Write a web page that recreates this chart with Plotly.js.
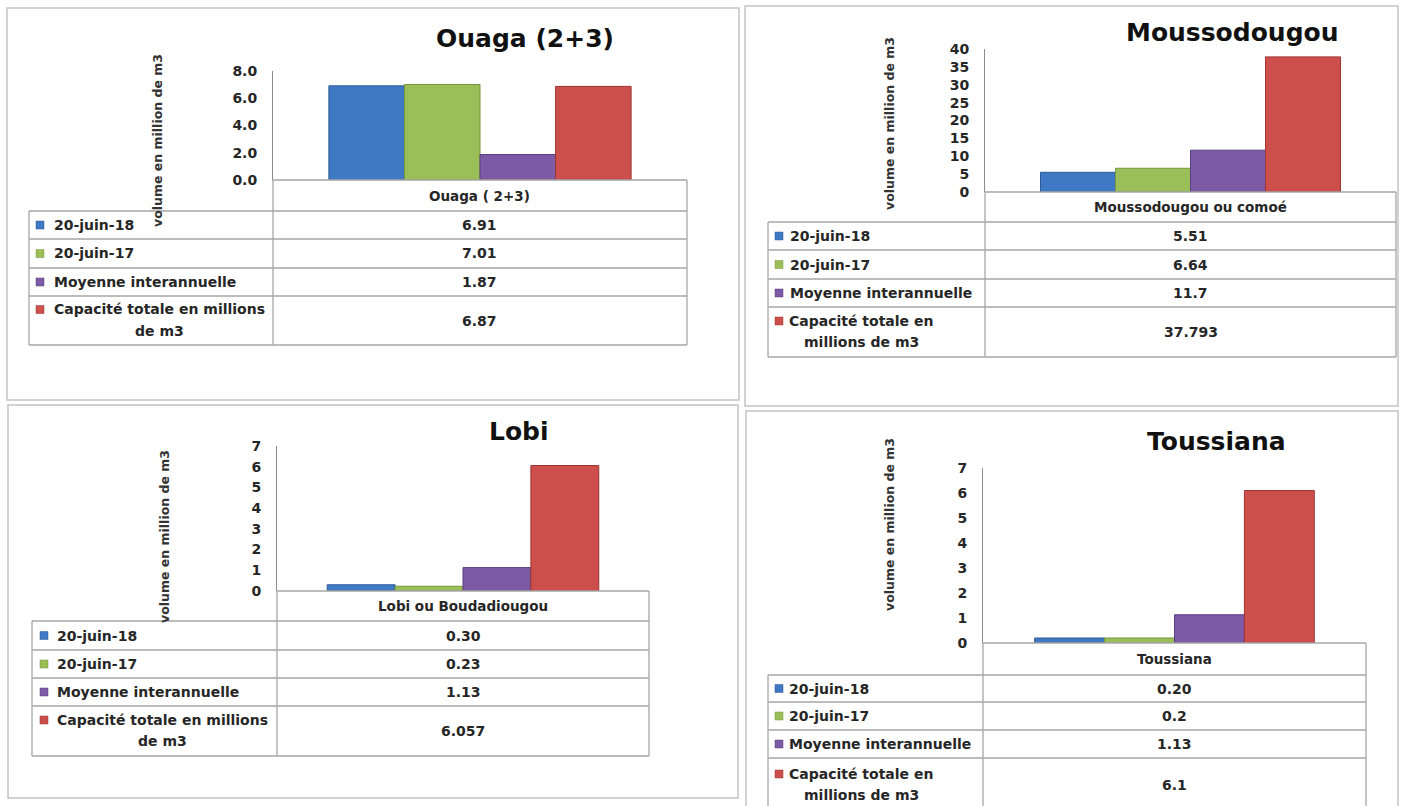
<!DOCTYPE html>
<html><head><meta charset="utf-8">
<script src="https://cdn.plot.ly/plotly-3.0.1.min.js"></script>
<style>html,body{margin:0;padding:0;background:#fff;} #chart{width:1406px;height:806px;}</style>
</head><body><div id="chart"></div>
<script>
// ---------- DATA ----------
const seriesNames = ["20-juin-18", "20-juin-17", "Moyenne interannuelle", "Capacité totale en millions de m3"];
const chartTitles = ["Ouaga (2+3)", "Moussodougou", "Lobi", "Toussiana"];
const categories = ["Ouaga ( 2+3)", "Moussodougou ou comoé", "Lobi ou Boudadiougou", "Toussiana"];
const ouagaValues = [6.91, 7.01, 1.87, 6.87];
const moussodougouValues = [5.51, 6.64, 11.7, 37.793];
const lobiValues = [0.30, 0.23, 1.13, 6.057];
const toussianaValues = [0.20, 0.2, 1.13, 6.1];
const ouagaLabels = ["6.91", "7.01", "1.87", "6.87"];
const moussodougouLabels = ["5.51", "6.64", "11.7", "37.793"];
const lobiLabels = ["0.30", "0.23", "1.13", "6.057"];
const toussianaLabels = ["0.20", "0.2", "1.13", "6.1"];
const yAxisTitle = "volume en million de m3";

// ---------- STYLE / LAYOUT ----------
const seriesColors = ["#3f78c4", "#9bbf58", "#7d5aa6", "#cc4f4c"];
const seriesEdges = ["#2d5a96", "#76953c", "#5c3f80", "#9c3533"];
const W = 1406, H = 806;
const px = x => x / W;
const py = y => 1 - y / H;
const FONT = "DejaVu Sans";

const panels = [
  { values: ouagaValues, labels: ouagaLabels, box: [7, 8, 739, 400], titleXY: [525, 38], yTitleXY: [157, 141],
    axX: [273, 687], axY: [180, 71], range: [0, 8], dtick: 2, fmt: ".1f",
    tLeft: 29, lines: [211, 239, 268, 296, 345], sqX: 36, labX: 52, capX: 159, capBreak: 4 },
  { values: moussodougouValues, labels: moussodougouLabels, box: [745, 6, 1398, 406], titleXY: [1232, 32], yTitleXY: [889, 124],
    axX: [985, 1396], axY: [192, 49], range: [0, 40], dtick: 5, fmt: "",
    tLeft: 768, lines: [222, 250, 279, 307, 357], sqX: 775, labX: 788, capX: 861, capBreak: 3 },
  { values: lobiValues, labels: lobiLabels, box: [8, 405, 738, 798], titleXY: [519, 432], yTitleXY: [164, 537],
    axX: [277, 649], axY: [591, 446], range: [0, 7], dtick: 1, fmt: "",
    tLeft: 32, lines: [621, 650, 678, 706, 756], sqX: 40, labX: 55, capX: 162, capBreak: 4 },
  { values: toussianaValues, labels: toussianaLabels, box: [746, 411, 1398, 812], titleXY: [1216, 442], yTitleXY: [889, 525],
    axX: [983, 1366], axY: [643, 468], range: [0, 7], dtick: 1, fmt: "",
    tLeft: 768, lines: [675, 702, 730, 758, 812], sqX: 775, labX: 787, capX: 861, capBreak: 3 }
];

const traces = [];
const layout = {
  width: W, height: H, margin: { l: 0, r: 0, t: 0, b: 0 },
  paper_bgcolor: "#ffffff", plot_bgcolor: "rgba(0,0,0,0)",
  barmode: "group", bargap: 0.27, bargroupgap: 0,
  showlegend: false, shapes: [], annotations: [],
  font: { family: FONT, color: "#262626" }
};
const gridColor = "#a6a6a6";
const line = (x0, y0, x1, y1, color, w) => ({ type: "line", xref: "paper", yref: "paper",
  x0: px(x0), y0: py(y0), x1: px(x1), y1: py(y1), line: { color: color || gridColor, width: w || 1.3 } });
const txt = (text, x, y, opts) => Object.assign({ text: text, xref: "paper", yref: "paper", x: px(x), y: py(y),
  showarrow: false, xanchor: "center", yanchor: "middle",
  font: { family: FONT, size: 14, color: "#262626", weight: "bold" } }, opts || {});

panels.forEach((p, i) => {
  const sfx = i === 0 ? "" : String(i + 1);
  seriesNames.forEach((name, s) => {
    traces.push({
      type: "bar", name: name, x: [categories[i]], y: [p.values[s]],
      xaxis: "x" + sfx, yaxis: "y" + sfx,
      marker: { color: seriesColors[s], line: { color: seriesEdges[s], width: 1 } },
      hovertemplate: name + ": %{y}<extra></extra>"
    });
  });
  layout["xaxis" + sfx] = { domain: [px(p.axX[0]), px(p.axX[1])], anchor: "y" + sfx,
    showticklabels: false, showline: false, showgrid: false, zeroline: false, ticks: "", fixedrange: true };
  layout["yaxis" + sfx] = { domain: [py(p.axY[0]), py(p.axY[1])], anchor: "x" + sfx,
    range: p.range, dtick: p.dtick, tick0: 0, tickformat: p.fmt, showline: true, linecolor: "#8c8c8c", linewidth: 1,
    showgrid: false, zeroline: false, ticks: "", ticklabelstandoff: 12,
    tickfont: { family: FONT, size: 14, color: "#262626", weight: "bold" }, fixedrange: true };

  // panel frame
  const b = p.box;
  layout.shapes.push({ type: "rect", xref: "paper", yref: "paper", x0: px(b[0]), y0: py(b[3]), x1: px(b[2]), y1: py(b[1]),
    line: { color: "#c4c4c4", width: 1.5 }, fillcolor: "rgba(0,0,0,0)", layer: "below" });

  // title
  layout.annotations.push(txt(chartTitles[i], p.titleXY[0], p.titleXY[1],
    { font: { family: FONT, size: 25, color: "#111111", weight: "bold" } }));
  // y title
  layout.annotations.push(txt(yAxisTitle, p.yTitleXY[0], p.yTitleXY[1],
    { textangle: -90, font: { family: FONT, size: 12.5, color: "#333333", weight: "bold" } }));

  // data table
  const L = p.tLeft, D = p.axX[0], R = p.axX[1], top = p.axY[0], rows = p.lines, bot = rows[rows.length - 1];
  layout.shapes.push(line(D, top, R, top));
  layout.shapes.push(line(D, top, D, bot));
  layout.shapes.push(line(R, top, R, bot));
  layout.shapes.push(line(L, rows[0], L, bot));
  rows.forEach(y => layout.shapes.push(line(L, y, R, y)));
  const valX = (D + R) / 2;
  layout.annotations.push(txt(categories[i], valX, (top + rows[0]) / 2, { font: { family: FONT, size: 13.5, color: "#262626", weight: "bold" } }));

  seriesNames.forEach((name, s) => {
    const y0 = rows[s], y1 = rows[s + 1], yc = (y0 + y1) / 2;
    layout.annotations.push(txt(p.labels[s], valX, yc));
    let sqY;
    if (s < 3) {
      layout.annotations.push(txt(name, p.labX, yc, { xanchor: "left" }));
      sqY = yc;
    } else {
      const words = name.split(" ");
      const l1 = words.slice(0, p.capBreak).join(" "), l2 = words.slice(p.capBreak).join(" ");
      layout.annotations.push(txt(l1, p.capX, yc - 11));
      layout.annotations.push(txt(l2, p.capX, yc + 10));
      sqY = yc - 11;
    }
    layout.shapes.push({ type: "rect", xref: "paper", yref: "paper",
      x0: px(p.sqX), x1: px(p.sqX + 8), y0: py(sqY + 4), y1: py(sqY - 4),
      fillcolor: seriesColors[s], line: { color: seriesEdges[s], width: 0.5 } });
  });
});

Plotly.newPlot("chart", traces, layout, { staticPlot: true, displayModeBar: false });
</script>
</body></html>
